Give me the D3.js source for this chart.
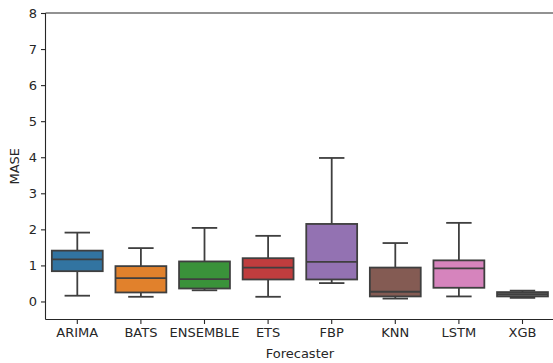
<!DOCTYPE html>
<html><head><meta charset="utf-8">
<script src="https://cdn.jsdelivr.net/npm/d3@7"></script>
<style>body{margin:0;background:#fff}svg{display:block}text{font-family:"DejaVu Sans",sans-serif;fill:#262626}</style>
</head><body>
<script>
const categories = ["ARIMA","BATS","ENSEMBLE","ETS","FBP","KNN","LSTM","XGB"];
const whiskerLow  = [0.16,0.13,0.31,0.13,0.51,0.08,0.14,0.10];
const q1          = [0.84,0.25,0.36,0.61,0.61,0.14,0.38,0.14];
const median      = [1.17,0.65,0.62,0.94,1.10,0.27,0.92,0.20];
const q3          = [1.41,0.98,1.11,1.20,2.15,0.94,1.14,0.26];
const whiskerHigh = [1.91,1.48,2.04,1.82,3.98,1.62,2.18,0.30];
const colors = ["#3274a1","#e1812c","#3a923a","#c03d3e","#9372b2","#845b53","#d684bd","#7f7f7f"];
const yTicks = [0,1,2,3,4,5,6,7,8];

(function(){
const W=553,H=363, FS="13px";
const mLeft=45.5, mTop=13, mBottom=319.5, step=63.6;
const svg=d3.select("body").append("svg").attr("width",W).attr("height",H);
const x=d3.scaleBand().domain(categories).range([mLeft,mLeft+step*categories.length]).paddingInner(0).paddingOuter(0);
const y=d3.scaleLinear().domain([-0.5,8]).range([mBottom,mTop]);
const line="#3f3f3f";

const data=categories.map((c,i)=>({c,lo:whiskerLow[i],q1:q1[i],med:median[i],q3:q3[i],hi:whiskerHigh[i],col:colors[i]}));
const bw=x.bandwidth()*0.8;
const g=svg.append("g");
data.forEach(d=>{
  const cx=x(d.c)+x.bandwidth()/2;
  const gg=g.append("g");
  gg.append("line").attr("x1",cx).attr("x2",cx).attr("y1",y(d.q3)).attr("y2",y(d.hi)).attr("stroke",line).attr("stroke-width",1.8);
  gg.append("line").attr("x1",cx).attr("x2",cx).attr("y1",y(d.q1)).attr("y2",y(d.lo)).attr("stroke",line).attr("stroke-width",1.8);
  gg.append("line").attr("x1",cx-bw/4).attr("x2",cx+bw/4).attr("y1",y(d.hi)).attr("y2",y(d.hi)).attr("stroke",line).attr("stroke-width",1.8);
  gg.append("line").attr("x1",cx-bw/4).attr("x2",cx+bw/4).attr("y1",y(d.lo)).attr("y2",y(d.lo)).attr("stroke",line).attr("stroke-width",1.8);
  gg.append("rect").attr("x",cx-bw/2).attr("width",bw).attr("y",y(d.q3)).attr("height",Math.max(0,y(d.q1)-y(d.q3)))
    .attr("fill",d.col).attr("stroke",line).attr("stroke-width",1.8);
  gg.append("line").attr("x1",cx-bw/2).attr("x2",cx+bw/2).attr("y1",y(d.med)).attr("y2",y(d.med)).attr("stroke",line).attr("stroke-width",1.8);
});

const ya=svg.append("g").attr("transform",`translate(${mLeft},0)`).call(d3.axisLeft(y).tickValues(yTicks).tickFormat(d3.format("d")).tickSize(4.5).tickPadding(4));
const xa=svg.append("g").attr("transform",`translate(0,${mBottom})`).call(d3.axisBottom(x).tickSize(4.5).tickPadding(3.5));
[ya,xa].forEach(a=>{a.select(".domain").remove();a.selectAll("line").attr("stroke","#262626").attr("stroke-width",1.1);a.selectAll("text").attr("font-size",FS).attr("fill","#262626").attr("font-family","DejaVu Sans, sans-serif");});
svg.append("line").attr("x1",mLeft).attr("x2",W).attr("y1",mBottom).attr("y2",mBottom).attr("stroke","#262626").attr("stroke-width",1.1);
svg.append("line").attr("x1",mLeft).attr("x2",W).attr("y1",mTop).attr("y2",mTop).attr("stroke","#262626").attr("stroke-width",1.1);
svg.append("line").attr("x1",mLeft).attr("x2",mLeft).attr("y1",mTop).attr("y2",mBottom).attr("stroke","#262626").attr("stroke-width",1.1);

svg.append("text").attr("x",(mLeft+mLeft+step*8)/2).attr("y",357.5).attr("text-anchor","middle").attr("font-size",FS).text("Forecaster");
svg.append("text").attr("transform",`translate(18.5,${(mTop+mBottom)/2}) rotate(-90)`).attr("text-anchor","middle").attr("font-size",FS).text("MASE");
})();
</script>
</body></html>
